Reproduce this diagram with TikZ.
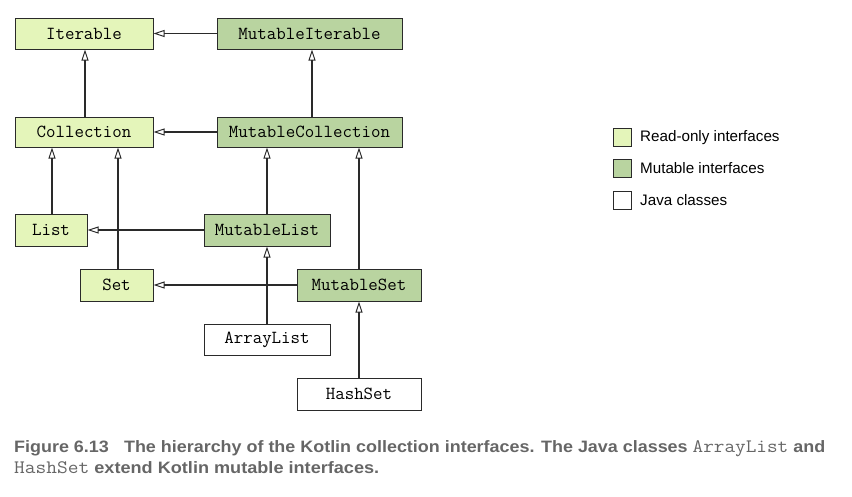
\documentclass[tikz,border=0pt]{standalone}
\usepackage{fontspec}
\setmainfont{Liberation Sans}
\usetikzlibrary{arrows.meta}
\definecolor{lite}{HTML}{E4F5BA}
\definecolor{mut}{HTML}{B9D4A0}
\definecolor{edge}{HTML}{2A2A2A}
\definecolor{capgray}{HTML}{666666}
\tikzset{
  box/.style={draw=edge, line width=1pt, inner sep=0pt, font=\fontsize{18.4}{18.4}\selectfont\ttfamily},
  ro/.style={box, fill=lite},
  mu/.style={box, fill=mut},
  jc/.style={box, fill=white},
  inh/.style={draw=edge, line width=1.1pt, -{Triangle[open, length=11pt, width=7pt, line width=1pt]}},
  legbox/.style={draw=edge, line width=0.8pt, minimum width=18pt, minimum height=18pt, inner sep=0pt},
  legtext/.style={anchor=west, inner sep=0pt, font=\fontsize{15.2}{15.2}\selectfont},
  captext/.style={anchor=base west, inner sep=0pt, text=capgray, font=\fontsize{16.5}{16.5}\selectfont\bfseries}
}
\begin{document}
\begin{tikzpicture}[x=1pt, y=-1pt]
\useasboundingbox (0,0) rectangle (852,496);
% nodes
\node[ro, minimum width=138pt, minimum height=31pt] (it) at (84,33.5) {Iterable};
\node[mu, minimum width=185pt, minimum height=31pt] (mi) at (309.5,33.5) {MutableIterable};
\node[ro, minimum width=138pt, minimum height=30pt] (co) at (84,132) {Collection};
\node[mu, minimum width=185pt, minimum height=30pt] (mc) at (309.5,132) {MutableCollection};
\node[ro, minimum width=72pt, minimum height=32pt] (li) at (51,230) {List};
\node[mu, minimum width=126pt, minimum height=32pt] (ml) at (267,230) {MutableList};
\node[ro, minimum width=73pt, minimum height=32pt] (se) at (116.5,285) {Set};
\node[mu, minimum width=124pt, minimum height=32pt] (ms) at (359,285) {MutableSet};
\node[jc, minimum width=126pt, minimum height=31pt] (al) at (267,339.5) {ArrayList};
\node[jc, minimum width=124pt, minimum height=32pt] (hs) at (359,394) {HashSet};
% connectors
\draw[inh] (mi.west) -- (it.east);
\draw[inh] ([xshift=1pt]co.north) -- ([xshift=1pt]it.south);
\draw[inh] ([xshift=2.5pt]mc.north) -- ([xshift=2.5pt]mi.south);
\draw[inh] (mc.west) -- (co.east);
\draw[inh] ([xshift=1pt]li.north) -- ([xshift=1pt]li.north |- co.south);
\draw[inh] ([xshift=1.5pt]se.north) -- ([xshift=1.5pt]se.north |- co.south);
\draw[inh] (ml.north) -- (ml.north |- mc.south);
\draw[inh] (ms.north) -- (ms.north |- mc.south);
\draw[inh] (ml.west) -- (li.east);
\draw[inh] (ms.west) -- (se.east);
\draw[inh] (al.north) -- (ml.south);
\draw[inh] (hs.north) -- (ms.south);
% legend
\node[legbox, fill=lite] (lg1) at (622,137.5) {};
\node[legbox, fill=mut] (lg2) at (622,168) {};
\node[legbox, fill=white] (lg3) at (622,200.5) {};
\node[legtext] (lt1) at (640,137.5) {Read-only interfaces};
\node[legtext] (lt2) at (640,168) {Mutable interfaces};
\node[legtext] (lt3) at (640,200.5) {Java classes};
% caption
\node[captext] (cap1) at (14,452) {\resizebox{811pt}{\height}{Figure 6.13\hspace{14pt}The hierarchy of the Kotlin collection interfaces. The Java classes {\fontsize{19}{19}\selectfont\mdseries\ttfamily ArrayList} and}};
\node[captext] (cap2) at (14,473) {\resizebox{365pt}{\height}{{\fontsize{19}{19}\selectfont\mdseries\ttfamily HashSet} extend Kotlin mutable interfaces.}};
\end{tikzpicture}
\end{document}
